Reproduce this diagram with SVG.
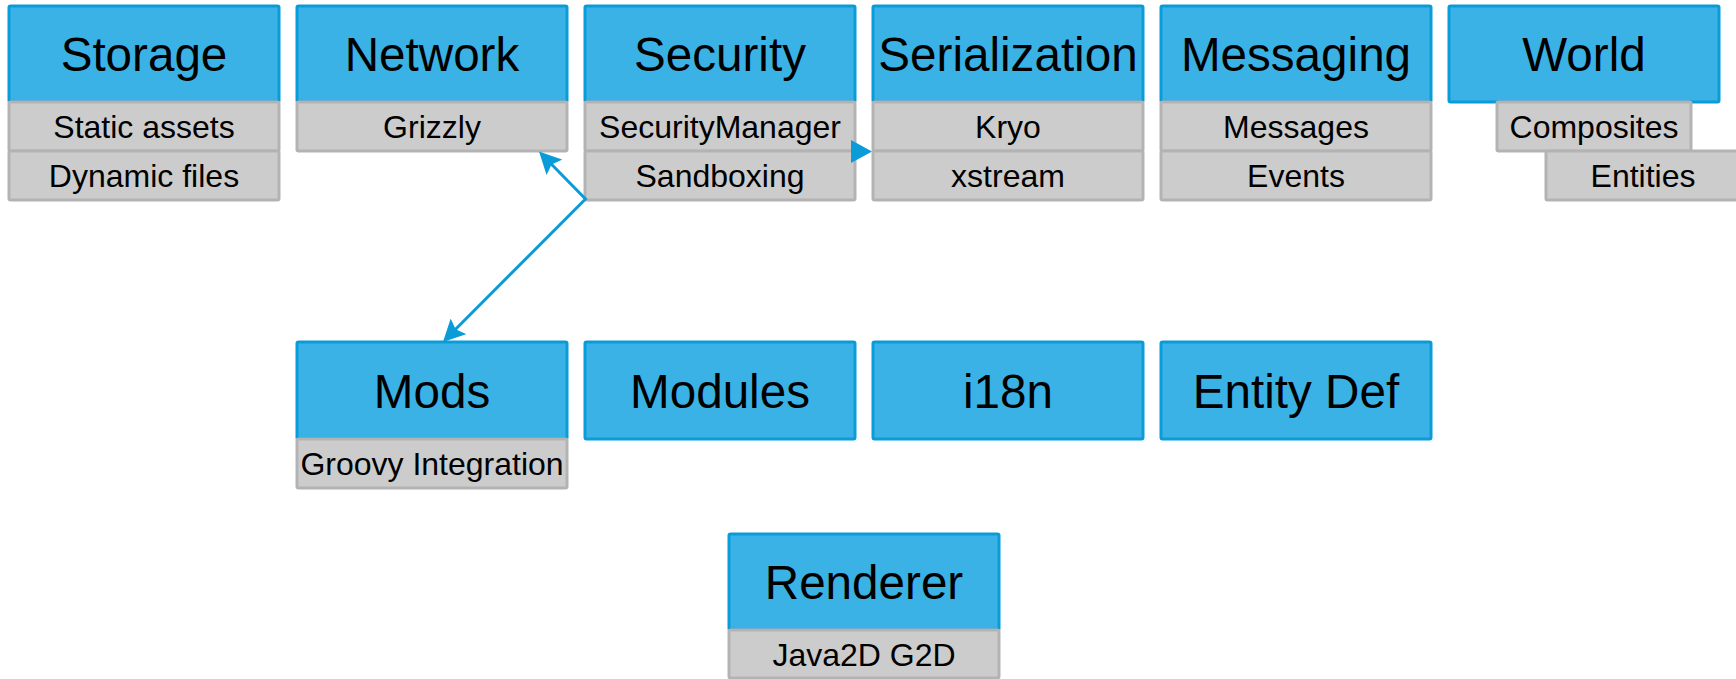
<svg xmlns="http://www.w3.org/2000/svg" width="1736" height="679" viewBox="0 0 1736 679">
  <style>
    .hd { fill: #3BB2E5; stroke: #0A9BD9; stroke-width: 3; }
    .sub { fill: #CCCCCC; stroke: #B3B3B3; stroke-width: 3; }
    .ht { font-family: "Liberation Sans", Arial, sans-serif; font-size: 47.6px; fill: #000; text-anchor: middle; }
    .st { font-family: "Liberation Sans", Arial, sans-serif; font-size: 32px; fill: #000; text-anchor: middle; }
    .conn { fill: none; stroke: #0A9BD9; stroke-width: 3; }
  </style>
  <defs>
    <marker id="classic" markerUnits="userSpaceOnUse" viewBox="0 0 22 22" markerWidth="22" markerHeight="22" refX="14" refY="11" orient="auto-start-reverse">
      <path d="M0 0 L22 11 L0 22 L4 11 Z" fill="#0A9BD9"/>
    </marker>
    <marker id="block" markerUnits="userSpaceOnUse" viewBox="0 0 21 23" markerWidth="21" markerHeight="23" refX="9" refY="11.5" orient="auto">
      <path d="M0 0 L21 11.5 L0 23 Z" fill="#0A9BD9"/>
    </marker>
  </defs>
  <rect width="1736" height="679" fill="#FFFFFF"/>

  <!-- row 1 -->
  <g id="storage">
    <rect class="hd" x="9" y="6" width="270" height="96" rx="1.5"/>
    <text class="ht" x="144" y="71">Storage</text>
    <rect class="sub" x="9" y="102" width="270" height="49" rx="1.5"/>
    <text class="st" x="144" y="138">Static assets</text>
    <rect class="sub" x="9" y="151" width="270" height="49" rx="1.5"/>
    <text class="st" x="144" y="187">Dynamic files</text>
  </g>
  <g id="network">
    <rect class="hd" x="297" y="6" width="270" height="96" rx="1.5"/>
    <text class="ht" x="432" y="71">Network</text>
    <rect class="sub" x="297" y="102" width="270" height="49" rx="1.5"/>
    <text class="st" x="432" y="138">Grizzly</text>
  </g>
  <g id="security">
    <rect class="hd" x="585" y="6" width="270" height="96" rx="1.5"/>
    <text class="ht" x="720" y="71">Security</text>
    <rect class="sub" x="585" y="102" width="270" height="49" rx="1.5"/>
    <text class="st" x="720" y="138">SecurityManager</text>
    <rect class="sub" x="585" y="151" width="270" height="49" rx="1.5"/>
    <text class="st" x="720" y="187">Sandboxing</text>
  </g>
  <g id="serialization">
    <rect class="hd" x="873" y="6" width="270" height="96" rx="1.5"/>
    <text class="ht" x="1008" y="71">Serialization</text>
    <rect class="sub" x="873" y="102" width="270" height="49" rx="1.5"/>
    <text class="st" x="1008" y="138">Kryo</text>
    <rect class="sub" x="873" y="151" width="270" height="49" rx="1.5"/>
    <text class="st" x="1008" y="187">xstream</text>
  </g>
  <g id="messaging">
    <rect class="hd" x="1161" y="6" width="270" height="96" rx="1.5"/>
    <text class="ht" x="1296" y="71">Messaging</text>
    <rect class="sub" x="1161" y="102" width="270" height="49" rx="1.5"/>
    <text class="st" x="1296" y="138">Messages</text>
    <rect class="sub" x="1161" y="151" width="270" height="49" rx="1.5"/>
    <text class="st" x="1296" y="187">Events</text>
  </g>
  <g id="world">
    <rect class="hd" x="1449" y="6" width="270" height="96" rx="1.5"/>
    <text class="ht" x="1584" y="71">World</text>
    <rect class="sub" x="1497" y="102" width="194" height="49" rx="1.5"/>
    <text class="st" x="1594" y="138">Composites</text>
    <rect class="sub" x="1546" y="151" width="194" height="49" rx="1.5"/>
    <text class="st" x="1643" y="187">Entities</text>
  </g>

  <!-- row 2 -->
  <g id="mods">
    <rect class="hd" x="297" y="342" width="270" height="97" rx="1.5"/>
    <text class="ht" x="432" y="408">Mods</text>
    <rect class="sub" x="297" y="439" width="270" height="49" rx="1.5"/>
    <text class="st" x="432" y="475">Groovy Integration</text>
  </g>
  <g id="modules">
    <rect class="hd" x="585" y="342" width="270" height="97" rx="1.5"/>
    <text class="ht" x="720" y="408">Modules</text>
  </g>
  <g id="i18n">
    <rect class="hd" x="873" y="342" width="270" height="97" rx="1.5"/>
    <text class="ht" x="1008" y="408">i18n</text>
  </g>
  <g id="entity-def">
    <rect class="hd" x="1161" y="342" width="270" height="97" rx="1.5"/>
    <text class="ht" x="1296" y="408">Entity Def</text>
  </g>

  <!-- row 3 -->
  <g id="renderer">
    <rect class="hd" x="729" y="534" width="270" height="96" rx="1.5"/>
    <text class="ht" x="864" y="599">Renderer</text>
    <rect class="sub" x="729" y="630" width="270" height="48" rx="1.5"/>
    <text class="st" x="864" y="666">Java2D G2D</text>
  </g>

  <!-- connectors -->
  <g id="connectors">
    <path class="conn" d="M544.6 157.3 L585.5 199 L448.6 336.3" marker-start="url(#classic)" marker-end="url(#classic)"/>
    <path class="conn" d="M852 151.5 L860 151.5" marker-end="url(#block)"/>
  </g>
</svg>
